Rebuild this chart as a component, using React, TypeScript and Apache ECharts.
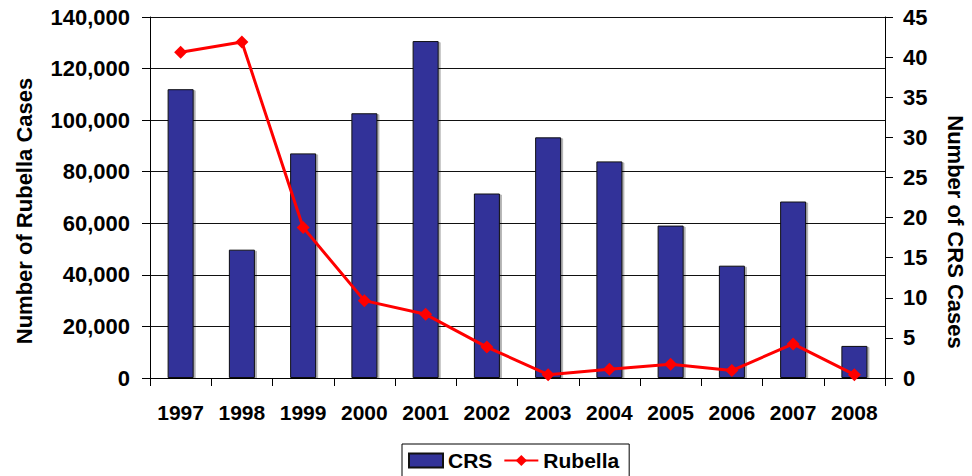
import React, { useEffect, useRef } from "react";
import * as echarts from "echarts";

const years = ["1997", "1998", "1999", "2000", "2001", "2002", "2003", "2004", "2005", "2006", "2007", "2008"];
const crsCases = [36, 16, 28, 33, 42, 23, 30, 27, 19, 14, 22, 4];
const rubellaCases = [126300, 130300, 58400, 30000, 24700, 12000, 1300, 3400, 5300, 2900, 13200, 1300];
const leftTitle = "Number of Rubella Cases";
const rightTitle = "Number of CRS Cases";

const FONT = "Liberation Sans, Arial, sans-serif";
const FS = 21;
const FSY = 22;

export default function App() {
  const ref = useRef<HTMLDivElement>(null);
  useEffect(() => {
    if (!ref.current) return;
    const chart = echarts.init(ref.current, undefined, { renderer: "svg" });
    chart.setOption({
      animation: false,
      textStyle: { fontFamily: FONT },
      grid: { left: 150, right: 87, top: 17, bottom: 98, containLabel: false },
      graphic: [
        {
          type: "text",
          x: 24,
          y: 211,
          rotation: Math.PI / 2,
          style: {
            text: leftTitle,
            fontFamily: FONT,
            fontWeight: "bold",
            fontSize: 22,
            fill: "#000",
            align: "center",
            verticalAlign: "middle",
          },
        },
        {
          type: "text",
          x: 955,
          y: 232,
          rotation: -Math.PI / 2,
          style: {
            text: rightTitle,
            fontFamily: FONT,
            fontWeight: "bold",
            fontSize: 22,
            fill: "#000",
            align: "center",
            verticalAlign: "middle",
          },
        },
      ],
      legend: {
        data: [{ name: "CRS", icon: "rect" }, { name: "Rubella" }],
        top: 444,
        left: 402,
        itemWidth: 34,
        itemHeight: 14,
        itemGap: 11,
        padding: [6, 10, 12, 6],
        borderColor: "#000",
        borderWidth: 1,
        textStyle: { fontFamily: FONT, fontWeight: "bold", fontSize: FS, color: "#000" },
      },
      xAxis: {
        type: "category",
        data: years,
        boundaryGap: true,
        axisLine: { lineStyle: { color: "#000", width: 1 } },
        axisTick: { show: true, length: 8, lineStyle: { color: "#000" } },
        axisLabel: { color: "#000", fontWeight: "bold", fontSize: FS, margin: 24, fontFamily: FONT },
      },
      yAxis: [
        {
          type: "value",
          min: 0,
          max: 140000,
          interval: 20000,
          position: "left",
          axisLine: { show: true, lineStyle: { color: "#000" } },
          axisTick: { show: true, length: 8, lineStyle: { color: "#000" } },
          axisLabel: {
            color: "#000",
            fontWeight: "bold",
            fontSize: FSY,
            margin: 20,
            fontFamily: FONT,
            formatter: (v: number) => v.toLocaleString("en-US"),
          },
          splitLine: { show: true, lineStyle: { color: "#111", width: 1 } },
        },
        {
          type: "value",
          min: 0,
          max: 45,
          interval: 5,
          position: "right",
          axisLine: { show: true, lineStyle: { color: "#000" } },
          axisTick: { show: true, length: 8, lineStyle: { color: "#000" } },
          axisLabel: { color: "#000", fontWeight: "bold", fontSize: FSY, margin: 18, fontFamily: FONT },
          splitLine: { show: false },
        },
      ],
      series: [
        {
          name: "CRS",
          type: "bar",
          yAxisIndex: 1,
          data: crsCases,
          barWidth: 26,
          itemStyle: {
            color: "#333399",
            borderColor: "#111",
            borderWidth: 1,
            shadowColor: "rgba(0,0,0,0.3)",
            shadowOffsetX: 2,
            shadowOffsetY: 1,
            shadowBlur: 1,
          },
        },
        {
          name: "Rubella",
          type: "line",
          yAxisIndex: 0,
          data: rubellaCases,
          symbol: "diamond",
          symbolSize: 13,
          lineStyle: { color: "#ff0000", width: 3 },
          itemStyle: { color: "#ff0000" },
        },
      ],
    });
    return () => chart.dispose();
  }, []);
  return <div ref={ref} style={{ position: "fixed", left: 0, top: 0, width: 972, height: 476, background: "#fff" }} />;
}
